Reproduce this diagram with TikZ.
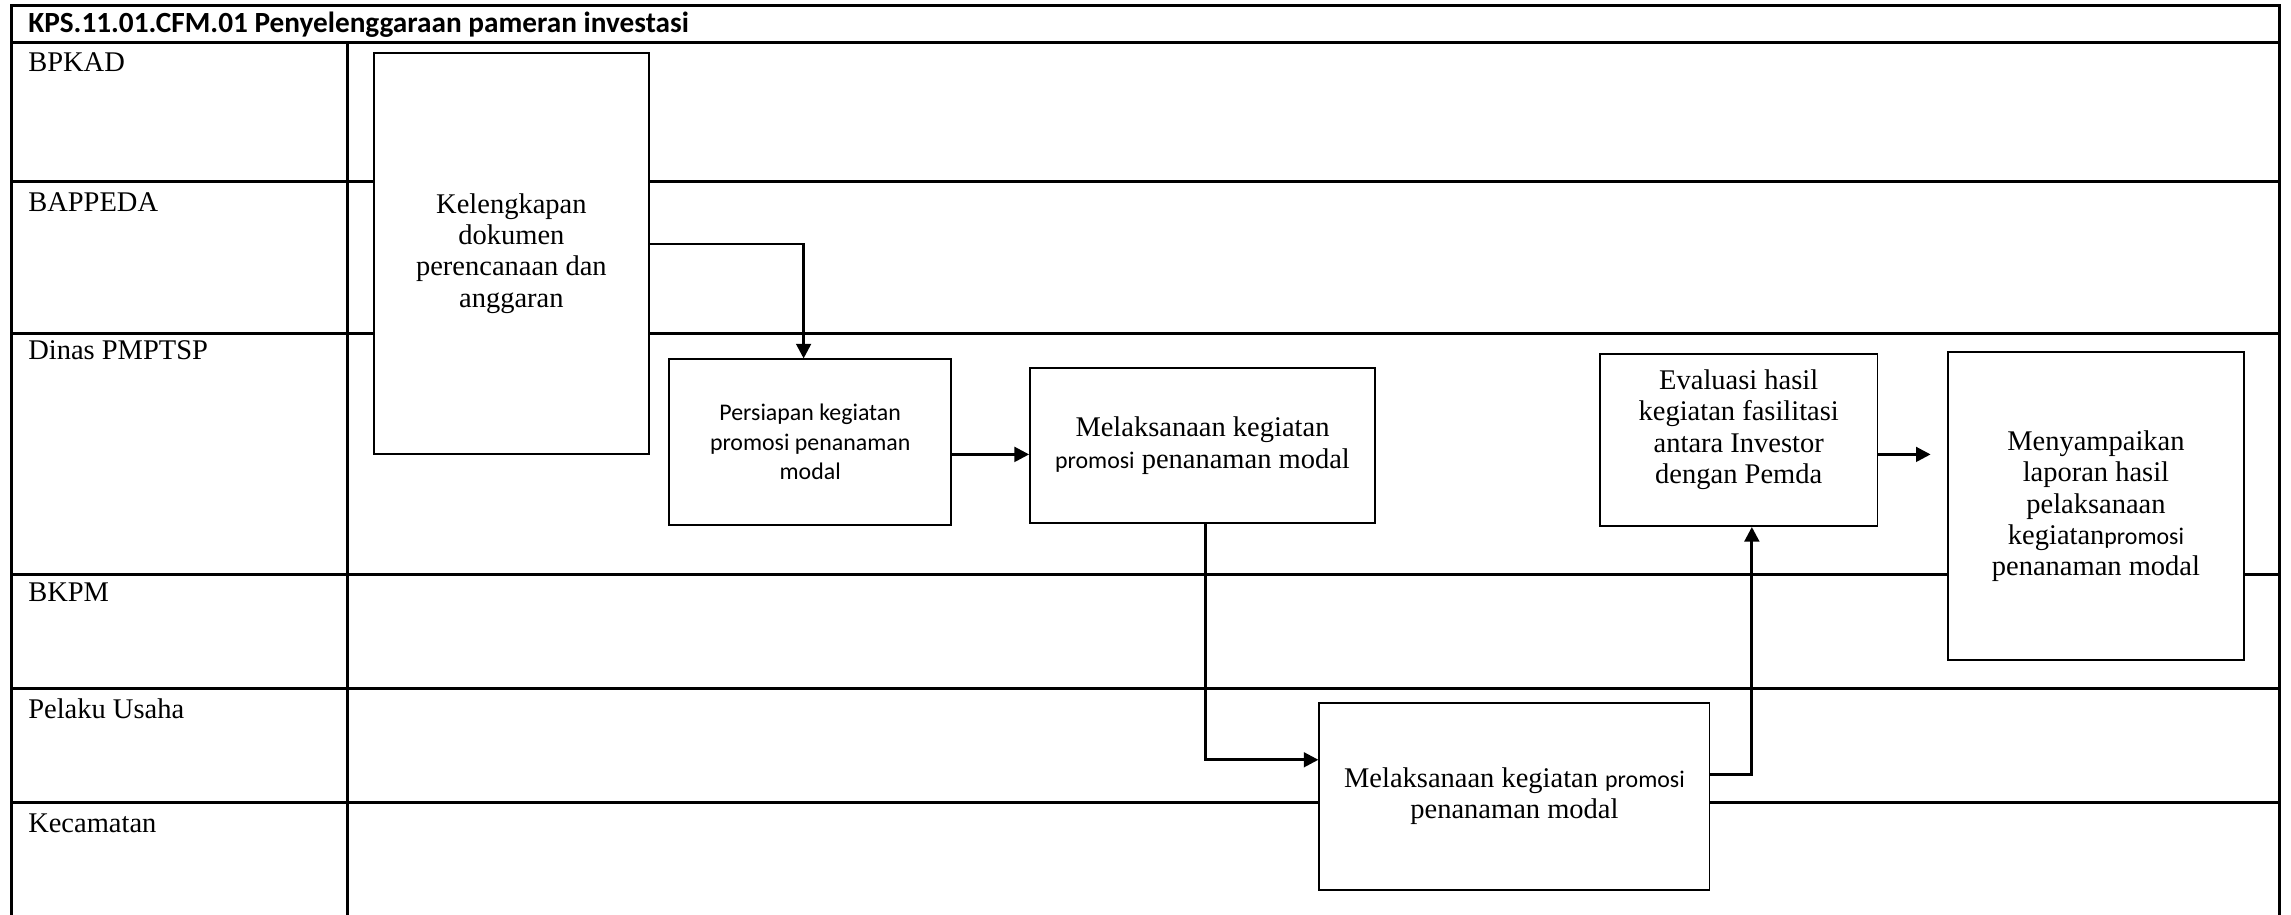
\documentclass[tikz,border=0pt]{standalone}
\usepackage{fontspec}
\setmainfont{Liberation Serif}
\newfontfamily\calib{Carlito}
\usetikzlibrary{arrows.meta}
\newcommand\smsans[1]{{\calib\fontsize{9.3}{11.4}\selectfont #1}}
\begin{document}
\begin{tikzpicture}[x=0.02cm,y=-0.02cm]
\tikzset{
  lane/.style={line width=1.1pt},
  box/.style={draw, fill=white, line width=0.75pt, align=center, inner sep=0pt,
    font=\fontsize{11.1}{12.2}\selectfont},
  sz/.style 2 args={minimum width=#1*0.02cm, minimum height=#2*0.02cm},
  txt/.style={align=center, inner sep=0pt, font=\fontsize{11.1}{12.2}\selectfont},
  arr/.style={line width=1.1pt, -{Triangle[length=5.7pt,width=5.7pt]}},
  lbl/.style={anchor=base west, inner sep=0pt, font=\fontsize{11.1}{12.2}\selectfont},
}
\useasboundingbox (0,0) rectangle (1568,626);
% frame and lanes
\draw[lane] (8,626) -- (8,4) -- (1560,4) -- (1560,626);
\foreach \yy in {29,124,228,393,471,549}{\draw[lane] (8,\yy) -- (1560,\yy);}
\draw[lane] (238,29) -- (238,626);
% title
\node[anchor=west, inner sep=0pt, font=\calib\bfseries\fontsize{11.4}{13}\selectfont] (title) at (19,17) {KPS.11.01.CFM.01 Penyelenggaraan pameran investasi};
% lane labels
\node[lbl] (l1) at (19,49) {BPKAD};
\node[lbl] (l2) at (19,145) {BAPPEDA};
\node[lbl] (l3) at (19,246) {Dinas PMPTSP};
\node[lbl] (l4) at (19,412) {BKPM};
\node[lbl] (l5) at (19,492) {Pelaku Usaha};
\node[lbl] (l6) at (19,570) {Kecamatan};
% boxes
\node[box, sz={188}{275}] (K) at (350,173.5) {Kelengkapan\\dokumen\\perencanaan dan\\anggaran};
\node[box, sz={193}{113}, font=\calib\fontsize{9.3}{11.4}\selectfont] (P) at (554.5,302.5) {Persiapan kegiatan\\promosi penanaman\\modal};
\node[box, sz={236}{106}] (M1) at (823,305) {Melaksanaan kegiatan\\\smsans{promosi} penanaman modal};
\node[box, sz={267}{128}] (M2) at (1036.5,545) {Melaksanaan kegiatan \smsans{promosi}\\penanaman modal};
\node[box, sz={190}{118}] (E) at (1190,301) {};
\node[txt] (Et) at (1190,294) {Evaluasi hasil\\kegiatan fasilitasi\\antara Investor\\dengan Pemda};
\node[box, sz={203}{211}] (S) at (1434.5,346.5) {Menyampaikan\\laporan hasil\\pelaksanaan\\kegiatan\smsans{promosi}\\penanaman modal};
% connectors
\draw[arr] (K.east |- 0,167) -| (P.north -| 550,0);
\draw[arr] (P.east |- 0,311) -- (M1.west |- 0,311);
\draw[arr] (M1.south -| 825,0) |- (M2.west |- 0,520);
\draw[arr] (M2.east |- 0,530) -| (E.south -| 1199,0);
\draw[arr, shorten >=11*0.02cm] (E.east |- 0,311) -- (S.west |- 0,311);
\end{tikzpicture}
\end{document}
